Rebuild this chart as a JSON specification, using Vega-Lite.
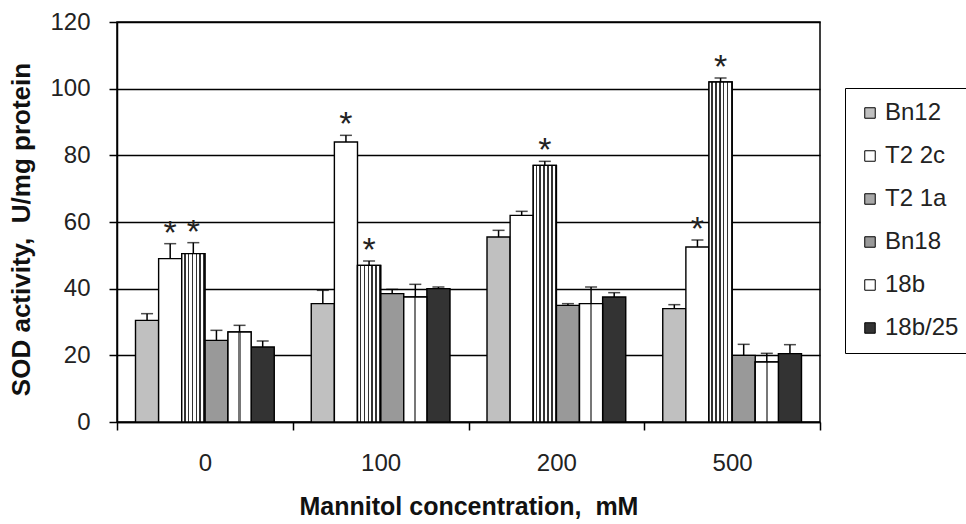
{
  "$schema": "https://vega.github.io/schema/vega-lite/v6.json",
  "width": 703,
  "height": 400,
  "autosize": {"type": "none"},
  "padding": {"left": 117, "top": 22, "right": 146, "bottom": 102},
  "background": "white",
  "config": {
    "font": "Liberation Sans",
    "view": {"stroke": "black", "strokeWidth": 1.5},
    "axis": {
      "domainColor": "black",
      "domainWidth": 1.5,
      "tickColor": "black",
      "tickWidth": 1.5,
      "tickSize": 8,
      "labelFont": "Liberation Sans",
      "labelFontSize": 24,
      "labelColor": "#222",
      "titleFont": "Liberation Sans",
      "titleFontSize": 26,
      "titleFontWeight": "bold",
      "titleColor": "#111"
    }
  },
  "data": {
    "values": [
      {"group": "0", "series": "Bn12", "value": 30.5, "upper": 32.5, "sig": ""},
      {"group": "0", "series": "T2 2c", "value": 49, "upper": 53.5, "sig": "*"},
      {"group": "0", "series": "T2 1a", "value": 50.5, "upper": 53.8, "sig": "*"},
      {"group": "0", "series": "Bn18", "value": 24.5, "upper": 27.5, "sig": ""},
      {"group": "0", "series": "18b", "value": 27, "upper": 29, "sig": ""},
      {"group": "0", "series": "18b/25", "value": 22.5, "upper": 24.3, "sig": ""},
      {"group": "100", "series": "Bn12", "value": 35.5, "upper": 39.5, "sig": ""},
      {"group": "100", "series": "T2 2c", "value": 84, "upper": 86, "sig": "*"},
      {"group": "100", "series": "T2 1a", "value": 47, "upper": 48.3, "sig": "*"},
      {"group": "100", "series": "Bn18", "value": 38.5, "upper": 39.8, "sig": ""},
      {"group": "100", "series": "18b", "value": 37.5, "upper": 41.3, "sig": ""},
      {"group": "100", "series": "18b/25", "value": 40, "upper": 40.5, "sig": ""},
      {"group": "200", "series": "Bn12", "value": 55.5, "upper": 57.5, "sig": ""},
      {"group": "200", "series": "T2 2c", "value": 62, "upper": 63.2, "sig": ""},
      {"group": "200", "series": "T2 1a", "value": 77, "upper": 78.2, "sig": "*"},
      {"group": "200", "series": "Bn18", "value": 35, "upper": 35.5, "sig": ""},
      {"group": "200", "series": "18b", "value": 35.5, "upper": 40.5, "sig": ""},
      {"group": "200", "series": "18b/25", "value": 37.5, "upper": 38.8, "sig": ""},
      {"group": "500", "series": "Bn12", "value": 34, "upper": 35.2, "sig": ""},
      {"group": "500", "series": "T2 2c", "value": 52.5, "upper": 54.6, "sig": "*"},
      {"group": "500", "series": "T2 1a", "value": 102, "upper": 103.2, "sig": "*"},
      {"group": "500", "series": "Bn18", "value": 20, "upper": 23.3, "sig": ""},
      {"group": "500", "series": "18b", "value": 18, "upper": 20.6, "sig": ""},
      {"group": "500", "series": "18b/25", "value": 20.5, "upper": 23.2, "sig": ""}
    ]
  },
  "encoding": {
    "x": {
      "field": "group",
      "type": "nominal",
      "sort": ["0", "100", "200", "500"],
      "scale": {"paddingInner": 0, "paddingOuter": 0},
      "title": "Mannitol concentration,\u00a0 mM",
      "axis": {"labelAngle": 0, "tickBand": "extent", "labelPadding": 21, "titlePadding": 19, "titleFontSize": 25, "grid": false}
    },
    "xOffset": {
      "field": "series",
      "type": "nominal",
      "scale": {"domain": ["Bn12", "T2 2c", "T2 1a", "Bn18", "18b", "18b/25"], "paddingInner": 0, "paddingOuter": 0.8}
    }
  },
  "layer": [
    {
      "mark": {"type": "bar", "stroke": "black", "strokeWidth": 1.4},
      "encoding": {
        "y": {
          "field": "value",
          "type": "quantitative",
          "scale": {"domain": [0, 120], "nice": false},
          "title": "SOD activity,\u00a0 U/mg protein",
          "axis": {
            "values": [0, 20, 40, 60, 80, 100, 120],
            "grid": true,
            "gridColor": "black",
            "gridWidth": 1.3,
            "gridOpacity": 1,
            "labelPadding": 19,
            "titlePadding": 15,
            "titleY": 207
          }
        },
        "fill": {
          "field": "series",
          "type": "nominal",
          "scale": {
            "domain": ["Bn12", "T2 2c", "T2 1a", "Bn18", "18b", "18b/25"],
            "range": ["#c0c0c0", "#ffffff", "#a8a8a8", "#999999", "#ffffff", "#333333"]
          },
          "legend": {
            "orient": "none",
            "legendX": 728,
            "legendY": 66,
            "title": null,
            "symbolType": "square",
            "symbolSize": 110,
            "symbolStrokeColor": "black",
            "symbolStrokeWidth": 1,
            "labelFont": "Liberation Sans",
            "labelFontSize": 24,
            "labelColor": "#222",
            "labelOffset": 3,
            "rowPadding": 19,
            "padding": 13,
            "strokeColor": "black",
            "fillColor": "white"
          }
        }
      }
    },
    {
      "transform": [{"filter": "datum.series === 'T2 1a'"}],
      "mark": {
        "type": "bar",
        "stroke": "black",
        "strokeWidth": 1.4,
        "fill": {"gradient": "linear", "x1": 0, "y1": 0, "x2": 1, "y2": 0, "stops": [
          {"offset": 0, "color": "#ffffff"}, {"offset": 0.1, "color": "#ffffff"},
          {"offset": 0.1, "color": "#333333"}, {"offset": 0.1667, "color": "#333333"},
          {"offset": 0.1667, "color": "#ffffff"}, {"offset": 0.2667, "color": "#ffffff"},
          {"offset": 0.2667, "color": "#333333"}, {"offset": 0.3333, "color": "#333333"},
          {"offset": 0.3333, "color": "#ffffff"}, {"offset": 0.4333, "color": "#ffffff"},
          {"offset": 0.4333, "color": "#333333"}, {"offset": 0.5, "color": "#333333"},
          {"offset": 0.5, "color": "#ffffff"}, {"offset": 0.6, "color": "#ffffff"},
          {"offset": 0.6, "color": "#333333"}, {"offset": 0.6667, "color": "#333333"},
          {"offset": 0.6667, "color": "#ffffff"}, {"offset": 0.7667, "color": "#ffffff"},
          {"offset": 0.7667, "color": "#333333"}, {"offset": 0.8333, "color": "#333333"},
          {"offset": 0.8333, "color": "#ffffff"}, {"offset": 0.9333, "color": "#ffffff"},
          {"offset": 0.9333, "color": "#333333"}, {"offset": 1, "color": "#333333"}
        ]}
      },
      "encoding": {
        "y": {"field": "value", "type": "quantitative"}
      }
    },
    {
      "transform": [{"filter": "datum.series === '18b'"}],
      "mark": {
        "type": "bar",
        "stroke": "black",
        "strokeWidth": 1.4,
        "fill": {"gradient": "linear", "x1": 0, "y1": 0, "x2": 1, "y2": 0, "stops": [
          {"offset": 0, "color": "#ffffff"}, {"offset": 0.45, "color": "#ffffff"},
          {"offset": 0.45, "color": "#777777"}, {"offset": 0.55, "color": "#777777"},
          {"offset": 0.55, "color": "#ffffff"}, {"offset": 1, "color": "#ffffff"}
        ]}
      },
      "encoding": {
        "y": {"field": "value", "type": "quantitative"}
      }
    },
    {
      "mark": {"type": "rule", "stroke": "black", "strokeWidth": 1.5},
      "encoding": {
        "y": {"field": "value", "type": "quantitative"},
        "y2": {"field": "upper"}
      }
    },
    {
      "mark": {"type": "tick", "orient": "horizontal", "size": 12, "thickness": 1.5, "color": "black"},
      "encoding": {
        "y": {"field": "upper", "type": "quantitative"}
      }
    },
    {
      "mark": {"type": "text", "fontSize": 34, "baseline": "alphabetic", "dy": 0, "color": "#222", "font": "Liberation Sans"},
      "encoding": {
        "y": {"field": "upper", "type": "quantitative"},
        "text": {"field": "sig"}
      }
    }
  ]
}
